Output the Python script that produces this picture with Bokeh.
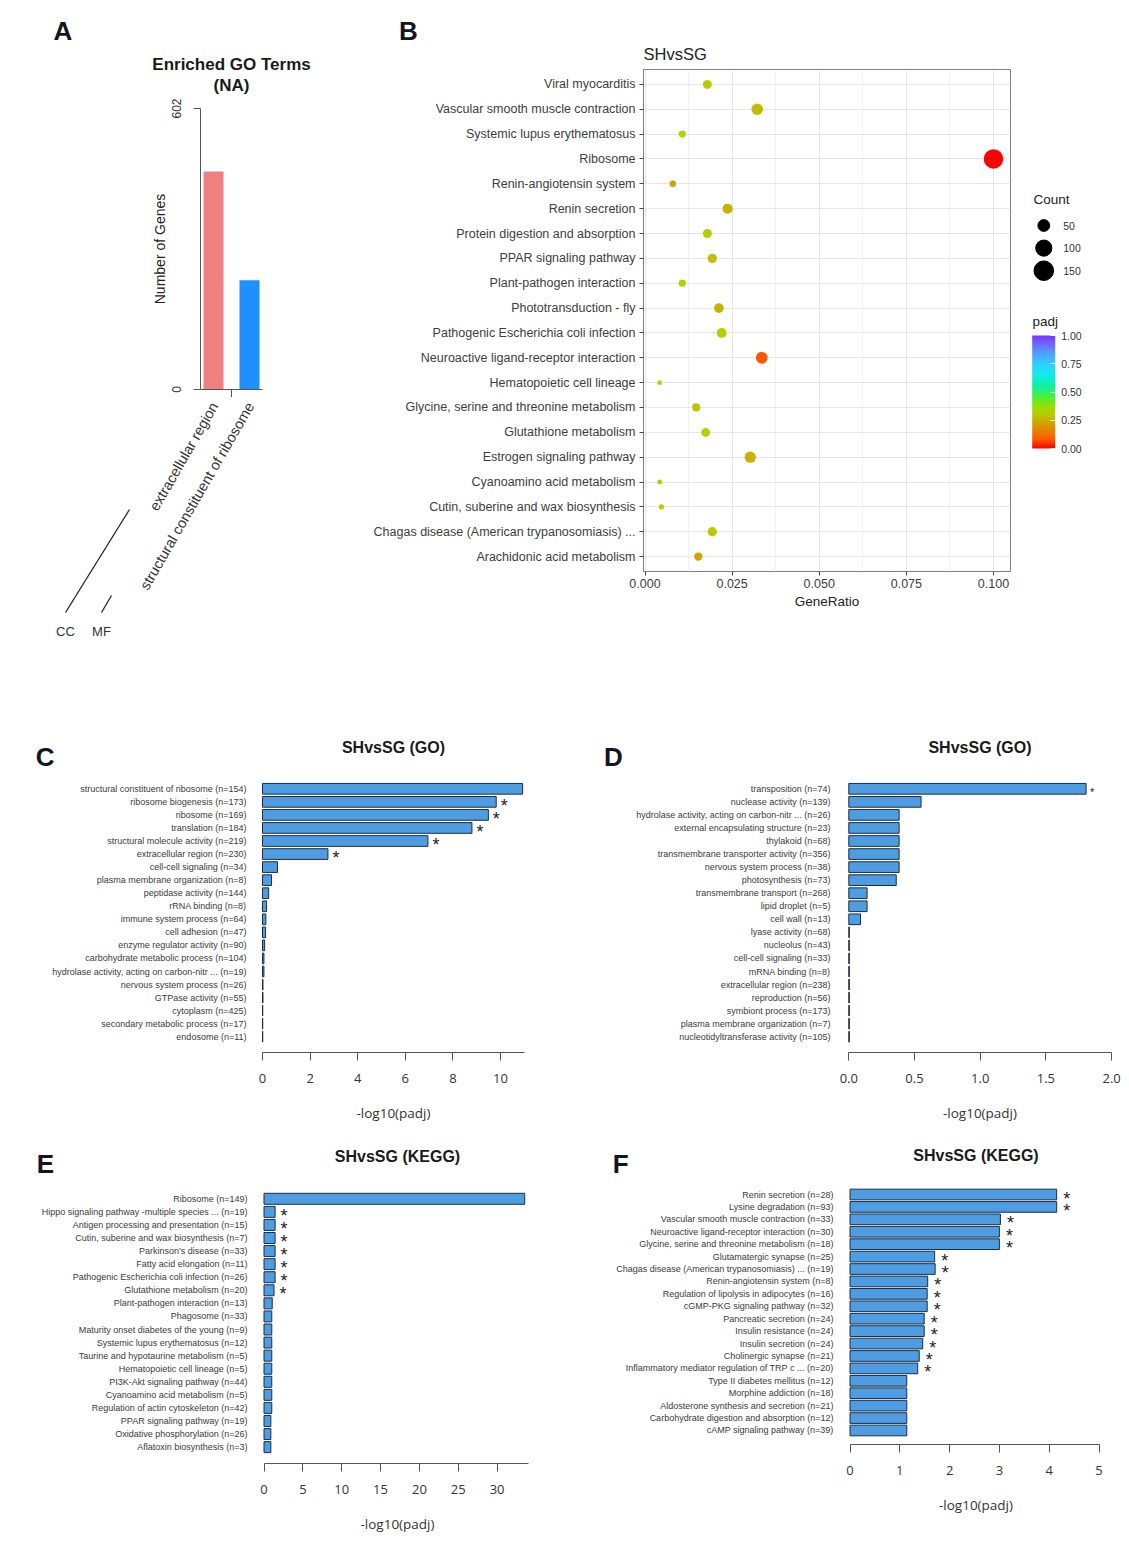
import math
from bokeh.plotting import figure
from bokeh.models import (Range1d, FixedTicker, ColorBar, LinearColorMapper,
                          PrintfTickFormatter, ColumnDataSource)
from bokeh.layouts import row, column
from bokeh.embed import file_html
from bokeh.resources import INLINE
from bokeh.core.properties import value

FONT = "Liberation Sans"
NUMFONT = "Open Sans"

# ---------------- Panel A data ----------------
a_terms = ["extracellular region", "structural constituent of ribosome"]
a_genes = [467, 234]
a_groups = ["CC", "MF"]
a_colors = ["#F08080", "#1E90FF"]
a_ymax = 602
a_title = ["Enriched GO Terms", "(NA)"]

# ---------------- Panel B data ----------------
b_terms = ["Viral myocarditis", "Vascular smooth muscle contraction",
           "Systemic lupus erythematosus", "Ribosome", "Renin-angiotensin system",
           "Renin secretion", "Protein digestion and absorption", "PPAR signaling pathway",
           "Plant-pathogen interaction", "Phototransduction - fly",
           "Pathogenic Escherichia coli infection", "Neuroactive ligand-receptor interaction",
           "Hematopoietic cell lineage", "Glycine, serine and threonine metabolism",
           "Glutathione metabolism", "Estrogen signaling pathway",
           "Cyanoamino acid metabolism", "Cutin, suberine and wax biosynthesis",
           "Chagas disease (American trypanosomiasis) ...", "Arachidonic acid metabolism"]
b_ratio = [0.0179, 0.0322, 0.0107, 0.1000, 0.0080, 0.0237, 0.0179, 0.0193, 0.0107, 0.0212,
           0.0220, 0.0335, 0.0042, 0.0147, 0.0174, 0.0302, 0.0042, 0.0047, 0.0193, 0.0153]
b_count = [27, 48, 16, 149, 12, 35, 27, 29, 16, 32, 33, 50, 6, 22, 26, 45, 6, 7, 29, 23]
b_padj = [0.30, 0.27, 0.33, 0.00, 0.22, 0.25, 0.31, 0.28, 0.33, 0.25,
          0.31, 0.08, 0.34, 0.29, 0.32, 0.25, 0.34, 0.33, 0.30, 0.22]
b_title = "SHvsSG"
b_xticks = [0.0, 0.025, 0.05, 0.075, 0.1]
b_count_breaks = [50, 100, 150]
b_padj_breaks = [0.0, 0.25, 0.5, 0.75, 1.0]

# ---------------- Panel C data ----------------
c_terms = ["structural constituent of ribosome (n=154)", "ribosome biogenesis (n=173)",
           "ribosome (n=169)", "translation (n=184)", "structural molecule activity (n=219)",
           "extracellular region (n=230)", "cell-cell signaling (n=34)",
           "plasma membrane organization (n=8)", "peptidase activity (n=144)",
           "rRNA binding (n=8)", "immune system process (n=64)", "cell adhesion (n=47)",
           "enzyme regulator activity (n=90)", "carbohydrate metabolic process (n=104)",
           "hydrolase activity, acting on carbon-nitr ... (n=19)",
           "nervous system process (n=26)", "GTPase activity (n=55)", "cytoplasm (n=425)",
           "secondary metabolic process (n=17)", "endosome (n=11)"]
c_vals = [10.93, 9.82, 9.49, 8.80, 6.95, 2.75, 0.63, 0.38, 0.26, 0.17,
          0.14, 0.13, 0.09, 0.06, 0.06, 0.02, 0.02, 0.01, 0.01, 0.01]
c_sig = [0, 1, 1, 1, 1, 1, 0, 0, 0, 0, 0, 0, 0, 0, 0, 0, 0, 0, 0, 0]
c_ticks = [0, 2, 4, 6, 8, 10]

# ---------------- Panel D data ----------------
d_terms = ["transposition (n=74)", "nuclease activity (n=139)",
           "hydrolase activity, acting on carbon-nitr ... (n=26)",
           "external encapsulating structure (n=23)", "thylakoid (n=68)",
           "transmembrane transporter activity (n=356)", "nervous system process (n=38)",
           "photosynthesis (n=73)", "transmembrane transport (n=268)", "lipid droplet (n=5)",
           "cell wall (n=13)", "lyase activity (n=68)", "nucleolus (n=43)",
           "cell-cell signaling (n=33)", "mRNA binding (n=8)", "extracellular region (n=238)",
           "reproduction (n=56)", "symbiont process (n=173)",
           "plasma membrane organization (n=7)", "nucleotidyltransferase activity (n=105)"]
d_vals = [1.806, 0.55, 0.383, 0.383, 0.383, 0.383, 0.383, 0.361, 0.139, 0.139,
          0.089, 0.004, 0.004, 0.004, 0.004, 0.004, 0.004, 0.004, 0.004, 0.004]
d_sig = [1, 0, 0, 0, 0, 0, 0, 0, 0, 0, 0, 0, 0, 0, 0, 0, 0, 0, 0, 0]
d_ticks = [0.0, 0.5, 1.0, 1.5, 2.0]

# ---------------- Panel E data ----------------
e_terms = ["Ribosome (n=149)", "Hippo signaling pathway -multiple species ... (n=19)",
           "Antigen processing and presentation (n=15)",
           "Cutin, suberine and wax biosynthesis (n=7)", "Parkinson's disease (n=33)",
           "Fatty acid elongation (n=11)", "Pathogenic Escherichia coli infection (n=26)",
           "Glutathione metabolism (n=20)", "Plant-pathogen interaction (n=13)",
           "Phagosome (n=33)", "Maturity onset diabetes of the young (n=9)",
           "Systemic lupus erythematosus (n=12)", "Taurine and hypotaurine metabolism (n=5)",
           "Hematopoietic cell lineage (n=5)", "PI3K-Akt signaling pathway (n=44)",
           "Cyanoamino acid metabolism (n=5)", "Regulation of actin cytoskeleton (n=42)",
           "PPAR signaling pathway (n=19)", "Oxidative phosphorylation (n=26)",
           "Aflatoxin biosynthesis (n=3)"]
e_vals = [33.55, 1.43, 1.43, 1.43, 1.43, 1.43, 1.43, 1.29, 1.06, 1.00,
          1.00, 1.00, 1.00, 1.00, 1.00, 1.00, 1.00, 0.88, 0.88, 0.88]
e_sig = [0, 1, 1, 1, 1, 1, 1, 1, 0, 0, 0, 0, 0, 0, 0, 0, 0, 0, 0, 0]
e_ticks = [0, 5, 10, 15, 20, 25, 30]

# ---------------- Panel F data ----------------
f_terms = ["Renin secretion (n=28)", "Lysine degradation (n=93)",
           "Vascular smooth muscle contraction (n=33)",
           "Neuroactive ligand-receptor interaction (n=30)",
           "Glycine, serine and threonine metabolism (n=18)", "Glutamatergic synapse (n=25)",
           "Chagas disease (American trypanosomiasis) ... (n=19)",
           "Renin-angiotensin system (n=8)", "Regulation of lipolysis in adipocytes (n=16)",
           "cGMP-PKG signaling pathway (n=32)", "Pancreatic secretion (n=24)",
           "Insulin resistance (n=24)", "Insulin secretion (n=24)",
           "Cholinergic synapse (n=21)", "Inflammatory mediator regulation of TRP c ... (n=20)",
           "Type II diabetes mellitus (n=12)", "Morphine addiction (n=18)",
           "Aldosterone synthesis and secretion (n=21)",
           "Carbohydrate digestion and absorption (n=12)", "cAMP signaling pathway (n=39)"]
f_vals = [4.15, 4.15, 3.02, 3.00, 3.00, 1.70, 1.71, 1.56, 1.55, 1.55,
          1.49, 1.49, 1.46, 1.39, 1.36, 1.14, 1.14, 1.14, 1.14, 1.14]
f_sig = [1, 1, 1, 1, 1, 1, 1, 1, 1, 1, 1, 1, 1, 1, 1, 0, 0, 0, 0, 0]
f_ticks = [0, 1, 2, 3, 4, 5]

go_title = "SHvsSG (GO)"
kegg_title = "SHvsSG (KEGG)"

# ---------------- styles ----------------
BAR_FILL = "#4E9DE3"
BAR_EDGE = "#1F2D3D"
LETTER_COLOR = "#15151f"
anchors = [(0.00, (255, 0, 0)), (0.08, (255, 90, 0)), (0.25, (200, 176, 0)),
           (0.30, (184, 204, 0)), (0.36, (160, 220, 0)), (0.45, (80, 240, 48)),
           (0.55, (16, 240, 160)), (0.65, (16, 236, 232)), (0.75, (48, 208, 255)),
           (0.87, (92, 144, 255)), (1.00, (128, 48, 255))]


def make_palette(n=256):
    out = []
    for k in range(n):
        t = k / (n - 1)
        for j in range(len(anchors) - 1):
            t0, c0 = anchors[j]
            t1, c1 = anchors[j + 1]
            if t0 <= t <= t1:
                f = (t - t0) / (t1 - t0)
                c = [round(c0[m] + f * (c1[m] - c0[m])) for m in range(3)]
                out.append("#%02x%02x%02x" % tuple(c))
                break
    return out


PALETTE = make_palette()


def dot_size(c):
    return 1.5 * math.sqrt(c) + 1.2


def fig(**kw):
    return figure(title=None, toolbar_location=None, output_backend="svg",
                  frame_align=False, **kw)


def decor(x0, y0, w, h, xr=None):
    """Figure whose frame fills its canvas; y in page pixels (downwards)."""
    p = fig(width=w, height=h, x_range=xr if xr is not None else Range1d(x0, x0 + w),
            y_range=Range1d(y0 + h, y0), min_border=0, x_axis_type=None, y_axis_type=None)
    p.outline_line_color = None
    p.background_fill_color = None
    p.border_fill_color = None
    return p


def put(p, x, y, text, size, bold=False, align="center", color="#1a1a1a", angle=0.0,
        font=FONT):
    p.text(x=[x], y=[y], text=[text], text_font=value(font), text_font_size=size,
           text_font_style="bold" if bold else "normal", text_align=align,
           text_baseline="middle", text_color=color, angle=angle)


# ================= Panel A =================
A_PX_PER_UNIT = 36.0
A_FL, A_FR, A_FT, A_FB = 200, 262, 108, 389
A_TOP, A_BOT = 95, 397          # page extent of the bar figure
a_start = 0.5 - (213 - A_FL) / A_PX_PER_UNIT
a_x = [i + 0.5 for i in range(len(a_terms))]

hdrA = decor(0, 0, 340, A_TOP)
put(hdrA, 62.5, 30.5, "A", "26px", bold=True, color=LETTER_COLOR)
put(hdrA, 231, 63.7, a_title[0], "17px", bold=True)
put(hdrA, 231, 85.4, a_title[1], "17px", bold=True)

pA = fig(width=340, height=A_BOT - A_TOP,
         x_range=Range1d(a_start, a_start + (A_FR - A_FL) / A_PX_PER_UNIT),
         y_range=Range1d(0, a_ymax),
         min_border_left=A_FL, min_border_right=340 - A_FR,
         min_border_top=A_FT - A_TOP, min_border_bottom=A_BOT - A_FB)
pA.vbar(x=a_x, top=a_genes, width=20 / A_PX_PER_UNIT, fill_color=a_colors, line_color=None)
pA.grid.visible = False
pA.outline_line_color = None
pA.yaxis.ticker = FixedTicker(ticks=[0, a_ymax], minor_ticks=[])
pA.yaxis.major_label_orientation = "parallel"
pA.yaxis.axis_label = "Number of Genes"
pA.yaxis.axis_label_text_font = FONT
pA.yaxis.axis_label_text_font_size = "14px"
pA.yaxis.axis_label_text_font_style = "normal"
pA.yaxis.axis_label_text_color = "#222222"
pA.yaxis.axis_label_standoff = 1
pA.yaxis.major_label_text_font = FONT
pA.yaxis.major_label_text_font_size = "12px"
pA.yaxis.major_label_text_color = "#333333"
pA.yaxis.major_label_standoff = 13
pA.yaxis.major_tick_out = 7
pA.yaxis.major_tick_in = 0
pA.yaxis.axis_line_color = "#555555"
pA.yaxis.major_tick_line_color = "#555555"
# x axis: only the separating tick between the two ontology groups
pA.xaxis.ticker = FixedTicker(ticks=[], minor_ticks=[1.0])
pA.xaxis.major_tick_out = 0
pA.xaxis.major_tick_in = 0
pA.xaxis.major_label_standoff = 0
pA.xaxis.minor_tick_out = 8
pA.xaxis.minor_tick_in = 0
pA.xaxis.minor_tick_line_color = "#555555"
pA.xaxis.axis_line_color = "#555555"

# footer of panel A: rotated category names (same x scale as the bars) + ontology brackets
ftr_x0 = a_start - A_FL / A_PX_PER_UNIT
ftrA = decor(0, A_BOT, 340, 650 - A_BOT,
             xr=Range1d(ftr_x0, ftr_x0 + 340 / A_PX_PER_UNIT))


def a_unit(px):
    return ftr_x0 + px / A_PX_PER_UNIT


ftrA.text(x=a_x, y=[403] * len(a_x), text=a_terms, text_font=value(FONT),
          text_font_size="14.5px", text_align="right", text_baseline="middle",
          text_color="#333333", angle=math.pi / 3, x_offset=1)
ftrA.segment(x0=[a_unit(65), a_unit(101)], y0=[612, 612], x1=[a_unit(129), a_unit(111)],
             y1=[509, 595], line_color="#222222", line_width=1.3)
ftrA.text(x=[a_unit(65), a_unit(101)], y=[631, 631], text=a_groups, text_font=value(FONT),
          text_font_size="13px", text_align="center", text_baseline="middle",
          text_color="#333333")

colA = column(hdrA, pA, ftrA)

# ================= Panel B =================
B_X0, B_W = 340, 680
B_FL, B_FR, B_FT, B_FB = 643, 1010, 69, 571
zero_b, ppu_b = 644.5, 3485.0
nb = len(b_terms)
b_pos = [nb - i for i in range(nb)]
mapper = LinearColorMapper(palette=PALETTE, low=0, high=1)
srcB = ColumnDataSource(dict(ratio=b_ratio, pos=b_pos, size=[dot_size(c) for c in b_count],
                             padj=b_padj))

hdrB = decor(B_X0, 0, B_W, B_FT)
put(hdrB, 408, 30.5, "B", "26px", bold=True, color=LETTER_COLOR)
put(hdrB, B_FL, 53, b_title, "16.5px", align="left", color="#222222")

pB = fig(width=B_W, height=650 - B_FT,
         x_range=Range1d((B_FL - zero_b) / ppu_b, (B_FR - zero_b) / ppu_b),
         y_range=Range1d(0.4, nb + 0.6),
         min_border_left=B_FL - B_X0, min_border_right=B_X0 + B_W - B_FR,
         min_border_top=0, min_border_bottom=650 - B_FB)
pB.scatter(x="ratio", y="pos", size="size", source=srcB,
           fill_color={"field": "padj", "transform": mapper}, line_color=None)
pB.outline_line_color = "#7F7F7F"
pB.outline_line_width = 1
pB.xgrid.grid_line_color = "#E6E6E6"
pB.xgrid.minor_grid_line_color = "#F2F2F2"
pB.ygrid.grid_line_color = "#E6E6E6"
pB.yaxis.ticker = FixedTicker(ticks=b_pos, minor_ticks=[])
pB.yaxis.major_label_overrides = {b_pos[i]: b_terms[i] for i in range(nb)}
pB.xaxis.ticker = FixedTicker(ticks=b_xticks, minor_ticks=[0.0125, 0.0375, 0.0625, 0.0875])
pB.xaxis.formatter = PrintfTickFormatter(format="%.3f")
for ax in (pB.xaxis[0], pB.yaxis[0]):
    ax.axis_line_color = None
    ax.major_tick_out = 4
    ax.major_tick_in = 0
    ax.major_tick_line_color = "#444444"
    ax.minor_tick_line_color = None
    ax.major_label_text_font = FONT
    ax.major_label_text_font_size = "12.5px"
    ax.major_label_text_color = "#3d3d3d"
    ax.major_label_standoff = 4
pB.xaxis.major_label_standoff = 3
pB.xaxis.axis_label = "GeneRatio"
pB.xaxis.axis_label_text_font = FONT
pB.xaxis.axis_label_text_font_size = "13.5px"
pB.xaxis.axis_label_text_font_style = "normal"
pB.xaxis.axis_label_text_color = "#222222"
pB.xaxis.axis_label_standoff = 3

colB = column(hdrB, pB)

# ---- legend figure for panel B ----
L_X0, L_W = 1020, 109
pL = decor(L_X0, 0, L_W, 650)
leg_x, leg_y0, leg_dy = 1043.3, 225.0, 22.6
leg_y = [leg_y0 + i * leg_dy for i in range(len(b_count_breaks))]
put(pL, 1033, 199, "Count", "13.5px", align="left", color="#222222")
pL.scatter(x=[leg_x] * len(leg_y), y=leg_y, size=[dot_size(c) for c in b_count_breaks],
           color="black")
pL.text(x=[1062.7] * len(leg_y), y=leg_y, text=[str(c) for c in b_count_breaks],
        text_font=value(FONT), text_font_size="10.5px", text_baseline="middle",
        text_color="#333333")
put(pL, 1032, 321, "padj", "13.5px", align="left", color="#222222")
cb = ColorBar(color_mapper=mapper, location=(11.7, 202), width=23, height=113,
              padding=0, margin=0, title=None,
              ticker=FixedTicker(ticks=b_padj_breaks, minor_ticks=[]),
              formatter=PrintfTickFormatter(format="%.2f"),
              major_label_text_font=FONT, major_label_text_font_size="10.5px",
              major_label_text_color="#333333", label_standoff=6,
              major_tick_line_color="white", major_tick_in=5, major_tick_out=0,
              bar_line_color=None, border_line_color=None, background_fill_color=None)
pL.add_layout(cb)


# ================= bar panels C-F =================
def bar_panel(terms, vals, sig, px, py, w, h, fl, fr, zero, ppu, first, sp, axis_y, ftop,
              bar_h, ticks, bound, fmt, lab_standoff, star_dx, star_dy, star_fs):
    n = len(terms)
    pos = [n - i for i in range(n)]
    last = first + (n - 1) * sp
    y_lo = 1 - (axis_y - last) / sp
    y_hi = n + (first - ftop) / sp
    p = fig(width=w, height=h,
            x_range=Range1d((fl - zero) / ppu, (fr - zero) / ppu),
            y_range=Range1d(y_lo, y_hi),
            min_border_left=fl - px, min_border_right=px + w - fr,
            min_border_top=ftop - py, min_border_bottom=py + h - axis_y)
    p.hbar(y=pos, left=0, right=vals, height=bar_h, fill_color=BAR_FILL,
           line_color=BAR_EDGE, line_width=1)
    sx = [vals[i] for i in range(n) if sig[i]]
    sy = [pos[i] for i in range(n) if sig[i]]
    p.text(x=sx, y=sy, text=["*"] * len(sx), x_offset=star_dx, y_offset=star_dy,
           text_font=value(FONT), text_font_size=star_fs, text_align="center",
           text_baseline="middle", text_color="#222222")
    p.grid.visible = False
    p.outline_line_color = None
    ya = p.yaxis[0]
    ya.ticker = FixedTicker(ticks=pos, minor_ticks=[])
    ya.major_label_overrides = {pos[i]: terms[i] for i in range(n)}
    ya.axis_line_color = None
    ya.major_tick_line_color = None
    ya.minor_tick_line_color = None
    ya.major_tick_out = 0
    ya.major_tick_in = 0
    ya.major_label_standoff = lab_standoff
    ya.major_label_text_font = FONT
    ya.major_label_text_font_size = "9px"
    ya.major_label_text_color = "#3a3a3a"
    xa = p.xaxis[0]
    xa.ticker = FixedTicker(ticks=ticks, minor_ticks=[])
    xa.formatter = PrintfTickFormatter(format=fmt)
    xa.bounds = (0, bound)
    xa.axis_line_color = "#555555"
    xa.major_tick_line_color = "#555555"
    xa.minor_tick_line_color = None
    xa.major_tick_out = 8
    xa.major_tick_in = 0
    xa.major_label_standoff = 13
    xa.major_label_text_font = NUMFONT
    xa.major_label_text_font_size = "13px"
    xa.major_label_text_color = "#333333"
    xa.axis_label = "-log10(padj)"
    xa.axis_label_text_font = NUMFONT
    xa.axis_label_text_font_size = "13.5px"
    xa.axis_label_text_font_style = "normal"
    xa.axis_label_text_color = "#333333"
    xa.axis_label_standoff = 18
    return p


# row 2 header + panels
R2_TOP, R2_FT = 650, 777
hdr2 = decor(0, R2_TOP, 1129, R2_FT - R2_TOP)
put(hdr2, 44.6, 756.7, "C", "26px", bold=True, color=LETTER_COLOR)
put(hdr2, 393, 746.7, go_title, "16px", bold=True)
put(hdr2, 613, 756.6, "D", "26px", bold=True, color=LETTER_COLOR)
put(hdr2, 979.5, 746.7, go_title, "16px", bold=True)

pC = bar_panel(c_terms, c_vals, c_sig, 0, R2_FT, 560, 1135 - R2_FT, 258, 528, 262.0, 23.8,
               788.3, 13.05, 1052, R2_FT, 0.82, c_ticks, 11.0, "%d", 12, 8, 4, "18px")
pD = bar_panel(d_terms, d_vals, d_sig, 560, R2_FT, 569, 1135 - R2_FT, 844, 1115, 848.3, 131.4,
               788.3, 13.05, 1052, R2_FT, 0.82, d_ticks, 2.0, "%.1f", 14, 6, 3, "11px")

# row 3 header + panels
R3_TOP, R3_FT = 1135, 1183
hdr3 = decor(0, R3_TOP, 1129, R3_FT - R3_TOP)
put(hdr3, 44.8, 1163, "E", "26px", bold=True, color=LETTER_COLOR)
put(hdr3, 397, 1156, kegg_title, "16px", bold=True)
put(hdr3, 620.3, 1163, "F", "26px", bold=True, color=LETTER_COLOR)
put(hdr3, 975.5, 1155, kegg_title, "16px", bold=True)

pE = bar_panel(e_terms, e_vals, e_sig, 0, R3_FT, 560, 1546 - R3_FT, 260, 534, 263.5, 7.77,
               1198.3, 13.07, 1463, R3_FT, 0.84, e_ticks, 34.0, "%d", 13, 9, 4, "18px")
pF = bar_panel(f_terms, f_vals, f_sig, 560, R3_FT, 569, 1546 - R3_FT, 846, 1105, 849.5, 49.8,
               1194, 12.42, 1444, R3_FT, 0.86, f_ticks, 5.0, "%d", 13, 10, 4, "18px")

layout = column(row(colA, colB, pL),
                column(hdr2, row(pC, pD)),
                column(hdr3, row(pE, pF)))
open("out.html", "w").write(file_html(layout, INLINE, "SHvsSG enrichment"))
